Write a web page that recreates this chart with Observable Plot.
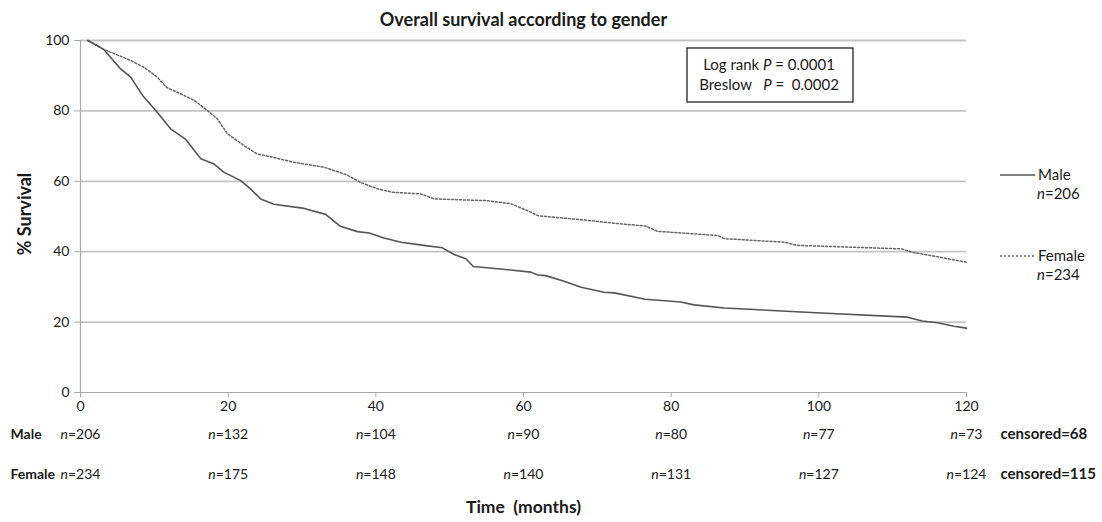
<!DOCTYPE html>
<html>
<head>
<meta charset="utf-8">
<script src="https://cdn.jsdelivr.net/npm/d3@7"></script>
<script src="https://cdn.jsdelivr.net/npm/@observablehq/plot@0.6"></script>
<style>
  html, body { margin: 0; padding: 0; background: #fff; }
  #chart { width: 1102px; height: 522px; }
</style>
</head>
<body>
<div id="chart"></div>
<script>
// ---- Data ----
const maleMonths   = [1, 3.2, 5.4, 6.8, 8.4, 10.2, 12.2, 14.2, 16.3, 18.1, 19.4, 21.7, 23, 24.4, 26.2, 30.3, 33.2, 35.2, 37.5, 39.1, 41.1, 43.4, 46.5, 49, 50.6, 52.2, 53.2, 56.9, 61, 61.9, 63, 65.5, 67.8, 70.9, 72.3, 76.5, 81.3, 83.1, 87.2, 100.3, 112, 114, 116.1, 118.3, 120];
const maleSurvival = [100, 97.4, 92, 89.6, 84.4, 80.1, 74.9, 72, 66.4, 64.9, 62.6, 60.2, 57.9, 55, 53.5, 52.3, 50.6, 47.2, 45.7, 45.3, 43.9, 42.7, 41.8, 41.1, 39.2, 38, 35.8, 35.1, 34.2, 33.4, 33.2, 31.6, 29.9, 28.5, 28.3, 26.5, 25.7, 24.9, 24, 22.6, 21.4, 20.3, 19.8, 18.8, 18.3];

const femaleMonths   = [1, 3.2, 6.3, 8.6, 10.4, 11.7, 13.1, 15.4, 17.2, 18.5, 19.9, 22.1, 23.9, 25.7, 28.9, 33, 36.1, 37.9, 40.2, 42.2, 46.1, 47.9, 55, 58.3, 60.5, 62, 67.8, 72.7, 76.5, 78.1, 86.3, 87.2, 95.3, 97.1, 111.2, 112.5, 116.5, 120];
const femaleSurvival = [100, 97.4, 94.8, 92.4, 89.6, 86.6, 85.3, 83, 80.1, 77.8, 73.5, 70.2, 67.8, 67, 65.4, 64, 61.8, 59.7, 57.9, 56.9, 56.4, 55, 54.5, 53.6, 51.7, 50.2, 49.1, 48, 47.3, 45.8, 44.6, 43.7, 42.7, 41.8, 40.8, 39.9, 38.4, 37];

const riskMonths   = [0, 20, 40, 60, 80, 100, 120];
const maleAtRisk   = [206, 132, 104, 90, 80, 77, 73];
const femaleAtRisk = [234, 175, 148, 140, 131, 127, 124];
const maleCensored = 68;
const femaleCensored = 115;
const maleTotal = 206;
const femaleTotal = 234;

const xTicks = [0, 20, 40, 60, 80, 100, 120];
const yTicks = [0, 20, 40, 60, 80, 100];

const titleText = "Overall survival according to gender";
const yLabel = "% Survival";
const xLabel = "Time  (months)";
const pLines = [["Log rank ", "P", " = 0.0001"], ["Breslow   ", "P", " =  0.0002"]];

// ---- Build tables ----
const male = maleMonths.map((t, i) => ({t, s: maleSurvival[i]}));
const female = femaleMonths.map((t, i) => ({t, s: femaleSurvival[i]}));
const risk = riskMonths.map((t, i) => ({t, m: maleAtRisk[i], f: femaleAtRisk[i]}));

const FONT = "Lato, 'Open Sans', sans-serif";
const TXT = "#1a1a1a";

const svg = Plot.plot({
  width: 1102,
  height: 522,
  marginLeft: 80,
  marginRight: 136,
  marginTop: 40,
  marginBottom: 130,
  style: {fontFamily: FONT, fontSize: "14px", color: TXT, background: "#fff"},
  x: {domain: [0, 120]},
  y: {domain: [0, 100]},
  marks: [
    Plot.ruleY(yTicks.filter(d => d > 0), {stroke: "#c4c4c4", strokeWidth: 1.8}),
    Plot.ruleX([0], {stroke: "#a8a8a8", strokeWidth: 1.2}),
    Plot.ruleY([0], {stroke: "#a8a8a8", strokeWidth: 1.2}),
    Plot.axisX({ticks: xTicks, tickSize: 5, tickPadding: 4, stroke: "#a8a8a8", fill: TXT, label: null, fontSize: 14}),
    Plot.axisY({ticks: yTicks, tickSize: 6, tickPadding: 5, stroke: "#a8a8a8", fill: TXT, label: null, fontSize: 14}),
    Plot.line(female, {x: "t", y: "s", stroke: "#666", strokeWidth: 1.5, strokeDasharray: "2,2"}),
    Plot.line(male, {x: "t", y: "s", stroke: "#555", strokeWidth: 1.6}),
    // title
    Plot.text([titleText], {text: d => d, frameAnchor: "top", dy: -27, fontWeight: "bold", fontSize: 18, fill: TXT}),
    // risk table
    Plot.text(risk, {x: "t", text: d => `n=${d.m}`, frameAnchor: "bottom", dy: 46, fontSize: 14, fill: TXT}),
    Plot.text(risk, {x: "t", text: d => `n=${d.f}`, frameAnchor: "bottom", dy: 86, fontSize: 14, fill: TXT}),
    Plot.text(["Male"], {text: d => d, frameAnchor: "bottom-left", dx: -70, dy: 46, textAnchor: "start", fontWeight: "bold", fontSize: 14, fill: TXT}),
    Plot.text(["Female"], {text: d => d, frameAnchor: "bottom-left", dx: -70, dy: 86, textAnchor: "start", fontWeight: "bold", fontSize: 14, fill: TXT}),
    Plot.text([`censored=${maleCensored}`], {text: d => d, frameAnchor: "bottom-right", dx: 34, dy: 46, textAnchor: "start", fontWeight: "bold", fontSize: 15, fill: TXT}),
    Plot.text([`censored=${femaleCensored}`], {text: d => d, frameAnchor: "bottom-right", dx: 34, dy: 86, textAnchor: "start", fontWeight: "bold", fontSize: 15, fill: TXT}),
    // x label
    Plot.text([xLabel], {text: d => d, frameAnchor: "bottom", dy: 120, fontWeight: "bold", fontSize: 17.5, fill: TXT})
  ]
});

// italicise the "n" in "n=###"
function italicN(sel) {
  sel.each(function() {
    const t = this.textContent;
    const m = /^n=(\d+)$/.exec(t);
    if (m) {
      const e = d3.select(this);
      e.text(null);
      e.append("tspan").attr("font-style", "italic").text("n");
      e.append("tspan").text("=" + m[1]);
    }
  });
}
const s = d3.select(svg);
italicN(s.selectAll("text"));

// y-axis title
s.append("text")
  .attr("transform", "translate(25,214) rotate(-90)")
  .attr("text-anchor", "middle").attr("dy", "0.32em")
  .attr("font-family", FONT).attr("font-size", 18).attr("font-weight", "bold").attr("fill", TXT)
  .text(yLabel);

// legend (right side)
const leg = s.append("g").attr("font-family", FONT).attr("font-size", 15).attr("fill", TXT).attr("text-anchor", "start");
leg.append("line").attr("x1", 1000).attr("x2", 1035).attr("y1", 175).attr("y2", 175)
  .attr("stroke", "#555").attr("stroke-width", 1.6);
leg.append("text").attr("x", 1038).attr("y", 175).attr("dy", "0.32em").text("Male");
leg.append("text").attr("x", 1037).attr("y", 194).attr("dy", "0.32em").text(`n=${maleTotal}`);
leg.append("line").attr("x1", 1000).attr("x2", 1035).attr("y1", 256).attr("y2", 256)
  .attr("stroke", "#666").attr("stroke-width", 1.5).attr("stroke-dasharray", "2,2");
leg.append("text").attr("x", 1038).attr("y", 256).attr("dy", "0.32em").text("Female");
leg.append("text").attr("x", 1037).attr("y", 275).attr("dy", "0.32em").text(`n=${femaleTotal}`);
italicN(leg.selectAll("text"));

// P-value box
const pb = s.append("g").attr("font-family", FONT).attr("font-size", 15).attr("fill", TXT);
pb.append("rect").attr("x", 687).attr("y", 48).attr("width", 166).attr("height", 54)
  .attr("fill", "#fff").attr("stroke", "#222").attr("stroke-width", 1.3);
pLines.forEach((parts, i) => {
  const t = pb.append("text").attr("x", 769).attr("y", 65 + i * 20).attr("dy", "0.32em")
    .attr("text-anchor", "middle").attr("xml:space", "preserve").style("white-space", "pre");
  t.append("tspan").text(parts[0]);
  t.append("tspan").attr("font-style", "italic").text(parts[1]);
  t.append("tspan").text(parts[2]);
});

document.getElementById("chart").appendChild(svg);
</script>
</body>
</html>
